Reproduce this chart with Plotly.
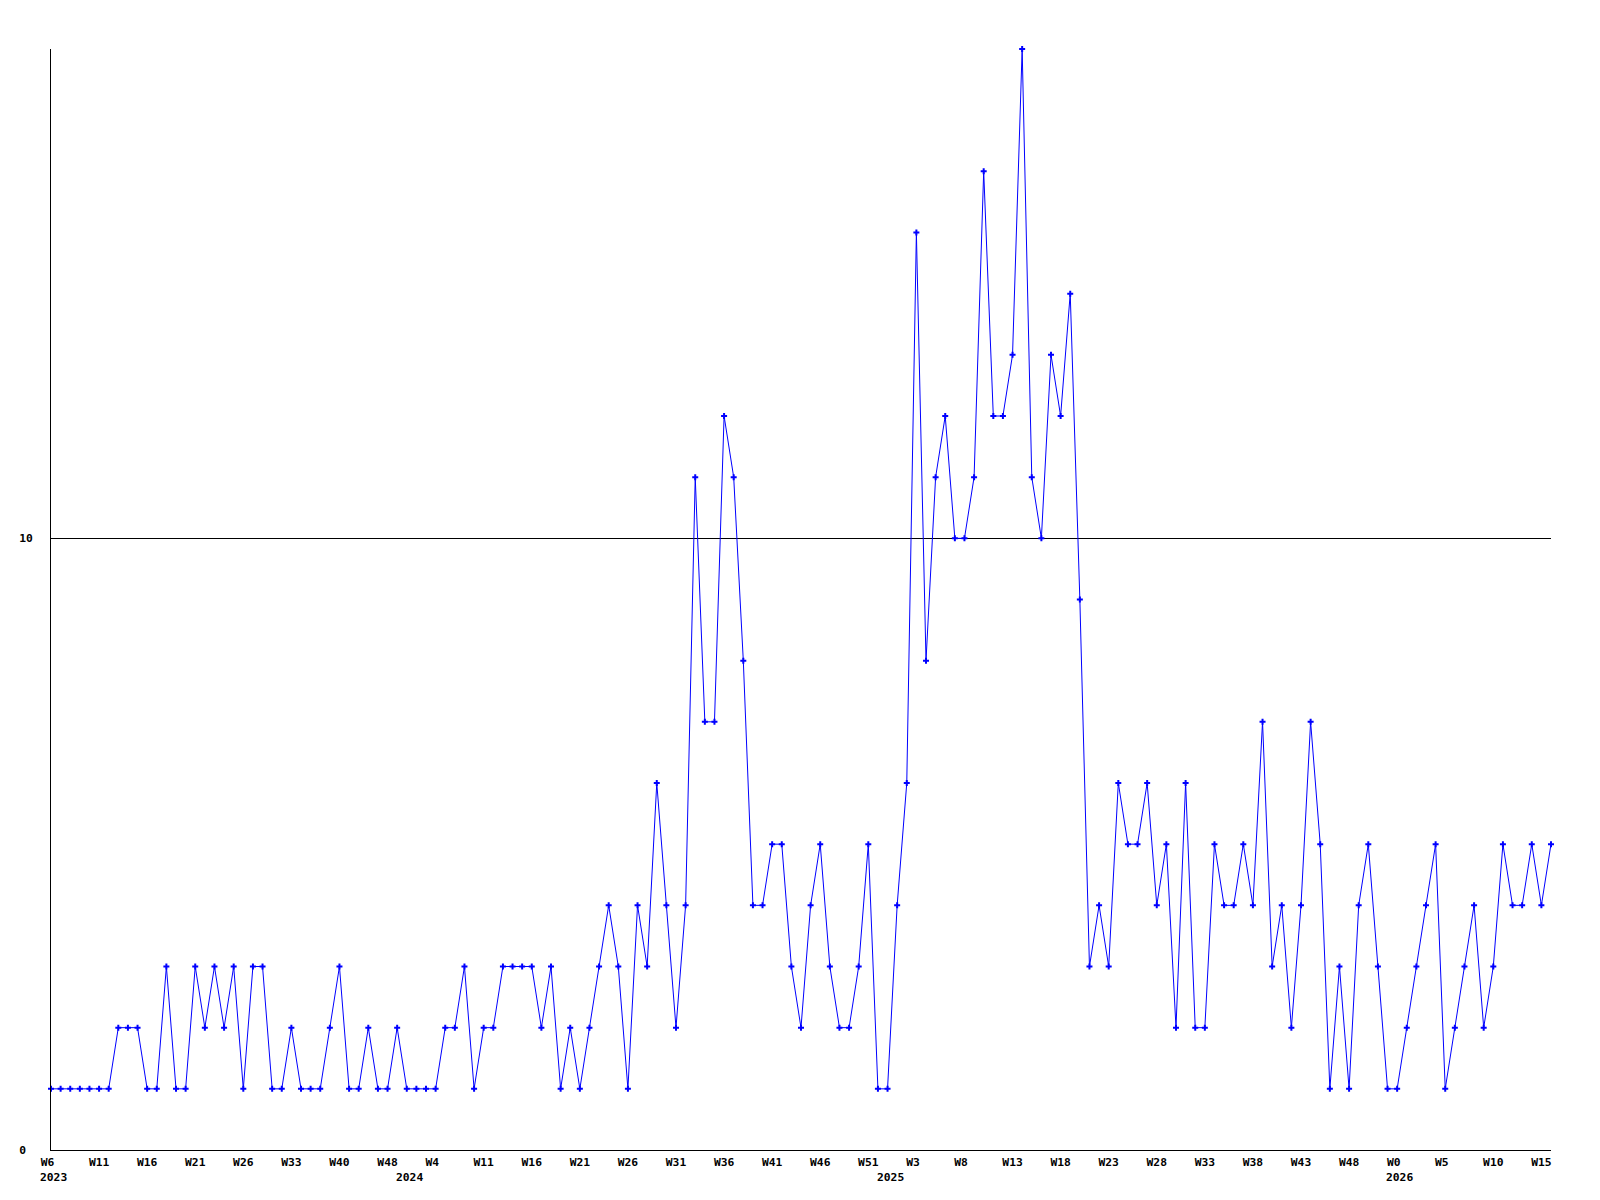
import plotly.graph_objects as go

# Weekly values (one per data point, in order)
values = [
    1, 1, 1, 1, 1, 1, 1, 2, 2, 2,
    1, 1, 3, 1, 1, 3, 2, 3, 2, 3,
    1, 3, 3, 1, 1, 2, 1, 1, 1, 2,
    3, 1, 1, 2, 1, 1, 2, 1, 1, 1,
    1, 2, 2, 3, 1, 2, 2, 3, 3, 3,
    3, 2, 3, 1, 2, 1, 2, 3, 4, 3,
    1, 4, 3, 6, 4, 2, 4, 11, 7, 7,
    12, 11, 8, 4, 4, 5, 5, 3, 2, 4,
    5, 3, 2, 2, 3, 5, 1, 1, 4, 6,
    15, 8, 11, 12, 10, 10, 11, 16, 12, 12,
    13, 18, 11, 10, 13, 12, 14, 9, 3, 4,
    3, 6, 5, 5, 6, 4, 5, 2, 6, 2,
    2, 5, 4, 4, 5, 4, 7, 3, 4, 2,
    4, 7, 5, 1, 3, 1, 4, 5, 3, 1,
    1, 2, 3, 4, 5, 1, 2, 3, 4, 2,
    3, 5, 4, 4, 5, 4, 5,
]

# Week tick labels, one every 5 points
week_labels = [
    "W6", "W11", "W16", "W21", "W26", "W33", "W40", "W48",
    "W4", "W11", "W16", "W21", "W26", "W31", "W36", "W41", "W46", "W51",
    "W3", "W8", "W13", "W18", "W23", "W28", "W33", "W38", "W43", "W48",
    "W0", "W5", "W10", "W15",
]
tick_step = 5

# Year labels and the point index where each year starts
year_labels = ["2023", "2024", "2025", "2026"]
year_start_index = [0, 37, 87, 140]

y_tick_values = [0, 10]
y_tick_labels = ["0", "10"]

x = list(range(len(values)))
tickvals = [i * tick_step for i in range(len(week_labels))]
ticktext = [lbl.ljust(3).replace(" ", "\u00a0") for lbl in week_labels]

FONT = "DejaVu Sans Mono"
BLUE = "#0000ff"

fig = go.Figure()
fig.add_trace(go.Scatter(
    x=x, y=values, mode="lines+markers",
    line=dict(color=BLUE, width=1),
    marker=dict(symbol="cross", size=5, color=BLUE, line=dict(width=0)),
    cliponaxis=False,
    showlegend=False,
    hoverinfo="skip",
))

annotations = []
for lbl, idx in zip(year_labels, year_start_index):
    annotations.append(dict(
        x=idx, xref="x", y=0, yref="paper",
        text=lbl, showarrow=False,
        xanchor="left", yanchor="middle",
        xshift=-13, yshift=-27,
        font=dict(family=FONT, size=11.3, color="black", weight="bold"),
    ))

fig.update_layout(
    width=1584, height=1184,
    margin=dict(l=43, r=41, t=41, b=42),
    paper_bgcolor="white", plot_bgcolor="white",
    font=dict(family=FONT, size=11.3, color="black", weight="bold"),
    annotations=annotations,
    xaxis=dict(
        range=[0, len(values) - 1],
        tickmode="array", tickvals=tickvals, ticktext=ticktext,
        showgrid=False, zeroline=False,
        showline=True, linecolor="black", linewidth=1,
        ticks="", tickangle=0,
        ticklabelstandoff=1,
        tickfont=dict(family=FONT, size=11.3, color="black", weight="bold"),
    ),
    yaxis=dict(
        range=[0, 18],
        tickmode="array", tickvals=y_tick_values,
        ticktext=[t.ljust(2).replace(" ", "\u00a0") for t in y_tick_labels],
        showgrid=True, gridcolor="black", gridwidth=1,
        zeroline=False,
        showline=True, linecolor="black", linewidth=1,
        ticks="",
        ticklabelstandoff=15,
        tickfont=dict(family=FONT, size=11.3, color="black", weight="bold"),
    ),
)

fig.write_html("out.html")
